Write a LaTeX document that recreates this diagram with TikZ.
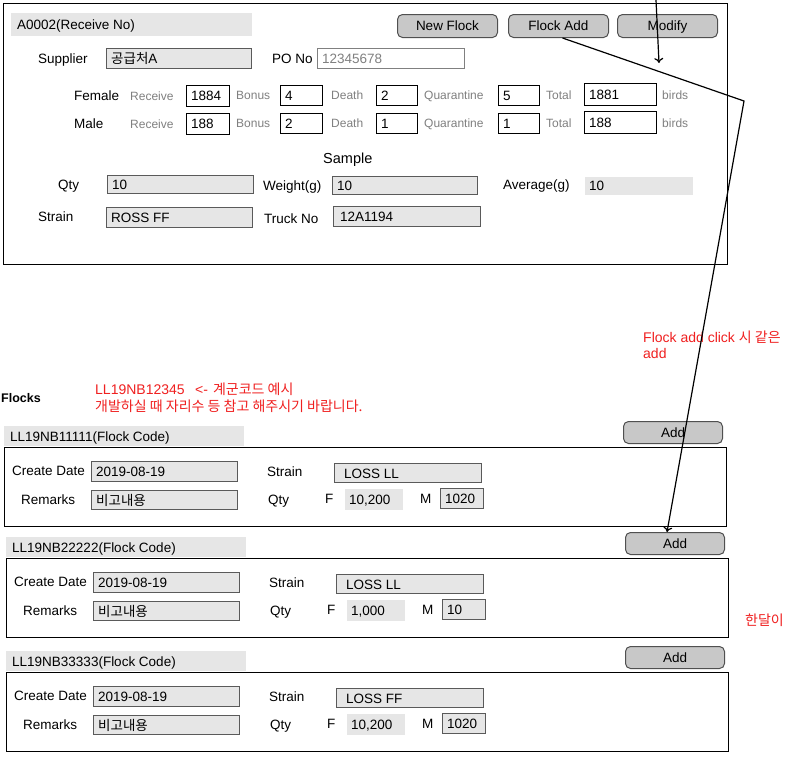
\documentclass[tikz,border=0pt]{standalone}
\usepackage{fontspec}
\setmainfont{Liberation Sans}
\newfontfamily\kr{Noto Sans CJK KR}
\usetikzlibrary{arrows.meta}
\definecolor{hdrgray}{HTML}{E6E6E6}
\definecolor{btngray}{HTML}{C8C8C8}
\definecolor{btnborder}{HTML}{505050}
\definecolor{fieldgray}{HTML}{E6E6E6}
\definecolor{fieldborder}{HTML}{5A5A5A}
\definecolor{sublabel}{HTML}{808080}
\definecolor{notered}{HTML}{F02020}
\newcommand\fm{\fontsize{13.5}{16}\selectfont}
\newcommand\fs{\fontsize{12}{14}\selectfont}
\newcommand\fnote{\fontsize{14}{16}\selectfont}
\tikzset{
 every node/.style={inner sep=0pt, font=\fm, text height=9.7pt, text depth=0pt},
 panel/.style={draw=black, line width=1.2pt, fill=white},
 hdrbox/.style={fill=hdrgray, draw=none},
 btn/.style={draw=btnborder, fill=btngray, rounded corners=5pt, line width=1pt},
 fieldbox/.style={draw=fieldborder, fill=fieldgray, line width=1.4pt},
 whitebox/.style={draw=black, fill=white, line width=1pt},
 pobox/.style={draw=sublabel, fill=white, line width=1.2pt},
 plainbox/.style={draw=none, fill=fieldgray},
 lbl/.style={anchor=west, text=black},
 sublbl/.style={anchor=west, text=sublabel, font=\fs, text height=8.6pt},
 note/.style={anchor=west, text=notered, font=\fnote, text height=10pt},
 arrowline/.style={line width=1.2pt, -{To[length=5pt,width=9pt]}},
}
% \fld[style]{name}{x}{y}{w}{h}{text}
\newcommand\fld[7][]{%
 \node[fieldbox,#1,minimum width=#5pt,minimum height=#6pt,anchor=north west] (#2) at (#3,#4) {};
 \node[anchor=west] (#2t) at ([xshift=5pt]#2.west) {#7};}
% \flock{id}{dx}{dy}{code}{strain}{F}{M}
\newcommand\flock[7]{%
 \node[hdrbox, minimum width=240pt, minimum height=20pt, anchor=north west] (#1h) at (4+#2,426+#3) {};
 \node[lbl] (#1ht) at (10+#2,437+#3) {#4(Flock Code)};
 \node[panel, minimum width=722pt, minimum height=79pt, anchor=north west] (#1p) at (4+#2,447+#3) {};
 \node[btn, minimum width=99pt, minimum height=22pt, anchor=north west] (#1add) at (623+#2,421+#3) {Add};
 \node[lbl] (#1cdl) at (12+#2,471+#3) {Create Date};
 \fld{#1date}{91+#2}{461+#3}{146}{20}{2019-08-19}
 \node[lbl] (#1rml) at (21+#2,500+#3) {Remarks};
 \fld{#1rem}{91+#2}{490+#3}{146}{19}{{\kr 비고내용}}
 \node[lbl] (#1stl) at (267+#2,472+#3) {Strain};
 \fld{#1str}{334+#2}{463+#3}{147}{19}{\hspace{5pt}#5}
 \node[lbl] (#1qtl) at (268+#2,500+#3) {Qty};
 \node[lbl] (#1fl) at (325+#2,499+#3) {F};
 \fld[plainbox]{#1f}{344+#2}{488+#3}{58}{21}{#6}
 \node[lbl] (#1ml) at (420+#2,499+#3) {M};
 \fld{#1m}{440+#2}{488+#3}{43}{20}{#7}
}
\begin{document}
\begin{tikzpicture}[x=1pt,y=-1pt]
\useasboundingbox (0,0) rectangle (786,771);
\fill[white] (0,0) rectangle (786,771);
% ---------- top panel ----------
\node[panel, minimum width=724pt, minimum height=261pt, anchor=north west] (top) at (3,3) {};
\node[hdrbox, minimum width=241pt, minimum height=23pt, anchor=north west] (rno) at (11,13) {};
\node[lbl] (rnot) at (17,25) {A0002(Receive No)};
\node[btn, minimum width=100pt, minimum height=23pt, anchor=north west] (newflock) at (397,14) {New Flock};
\node[btn, minimum width=100pt, minimum height=23pt, anchor=north west] (flockadd) at (508,14) {Flock Add};
\node[btn, minimum width=100pt, minimum height=23pt, anchor=north west] (modify) at (617,14) {Modify};
\node[lbl] (supl) at (38,59) {Supplier};
\fld{sup}{106}{48}{145}{20}{{\kr 공급처}A}
\node[lbl] (pol) at (272,59) {PO No};
\fld[pobox]{po}{317}{48}{147}{20}{\textcolor{sublabel}{12345678}}
% female / male rows
\node[lbl] (fem) at (74,96) {Female};
\node[lbl] (mal) at (74,124) {Male};
\node[sublbl] (frl) at (130,96) {Receive};
\node[sublbl] (mrl) at (130,124) {Receive};
\fld[whitebox]{fr}{186}{85}{43}{21}{1884}
\fld[whitebox]{mr}{186}{113}{43}{21}{188}
\node[sublbl] (fbl) at (236,95) {Bonus};
\node[sublbl] (mbl) at (236,123) {Bonus};
\fld[whitebox]{fb}{280}{85}{42}{20}{4}
\fld[whitebox]{mb}{280}{113}{42}{20}{2}
\node[sublbl] (fdl) at (331,95) {Death};
\node[sublbl] (mdl) at (331,123) {Death};
\fld[whitebox]{fd}{376}{85}{41}{20}{2}
\fld[whitebox]{md}{376}{113}{41}{20}{1}
\node[sublbl] (fql) at (424,95) {Quarantine};
\node[sublbl] (mql) at (424,123) {Quarantine};
\fld[whitebox]{fq}{498}{85}{41}{20}{5}
\fld[whitebox]{mq}{498}{113}{41}{20}{1}
\node[sublbl] (ftl) at (546,95) {Total};
\node[sublbl] (mtl) at (546,123) {Total};
\fld[whitebox]{ft}{584}{83}{72}{22}{1881}
\fld[whitebox]{mt}{584}{111}{72}{22}{188}
\node[sublbl] (fbirds) at (662,95) {birds};
\node[sublbl] (mbirds) at (662,123) {birds};
% sample
\node[lbl, font=\fontsize{14.5}{17}\selectfont, text height=10.4pt] (sample) at (323,158) {Sample};
\node[lbl] (qtyl) at (58,185) {Qty};
\fld{qty}{107}{175}{146}{18}{10}
\node[lbl] (wl) at (263,186) {Weight(g)};
\fld{wt}{332}{176}{145}{18}{10}
\node[lbl] (avl) at (503,185) {Average(g)};
\fld[plainbox]{av}{584}{176}{108}{18}{10}
\node[lbl] (stl) at (38,217) {Strain};
\fld{st}{106}{207}{146}{20}{ROSS FF}
\node[lbl] (trl) at (264,219) {Truck No};
\fld{tr}{333}{206}{147}{20}{\hspace{2pt}12A1194}
% ---------- notes ----------
\node[note] (note1) at (643,337) {Flock add click {\kr 시 같은}};
\node[note] (note1b) at (643,353) {add};
\node[anchor=west, font=\bfseries\fontsize{12.5}{15}\selectfont, text height=9pt] (flocks) at (1,398) {Flocks};
\node[note] (note2) at (95,389) {LL19NB12345\hspace{10.5pt}<-\hspace{5pt}{\kr 계군코드 예시}};
\node[note] (note3) at (95,406) {\kr 개발하실 때 자리수 등 참고 해주시기 바랍니다.};
\node[note] (note4) at (745,620) {\kr 한달이};
% ---------- flocks ----------
\flock{fa}{0}{0}{LL19NB11111}{LOSS LL}{10,200}{1020}
\flock{fb}{2}{111}{LL19NB22222}{LOSS LL}{1,000}{10}
\flock{fc}{2}{225}{LL19NB33333}{LOSS FF}{10,200}{1020}
% ---------- arrows ----------
\coordinate (a1s) at (656,0);
\coordinate (a1e) at (659,63);
\draw[arrowline] (a1s) -- (a1e);
\coordinate (bend) at (744,101);
\draw[arrowline] ([xshift=4pt]flockadd.south) -- (bend) -- ([xshift=-8pt]fbadd.north);
\end{tikzpicture}
\end{document}
